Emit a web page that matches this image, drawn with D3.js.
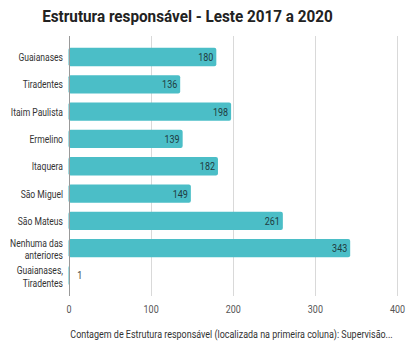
<!DOCTYPE html>
<html><head><meta charset="utf-8">
<script src="https://cdn.jsdelivr.net/npm/d3@7"></script>
<style>
html,body{margin:0;padding:0;background:#fff;}
text{font-family:Roboto,"Liberation Sans",sans-serif;}
</style></head>
<body>
<svg id="chart" width="406" height="347"></svg>
<script>
const categories = ["Guaianases","Tiradentes","Itaim Paulista","Ermelino","Itaquera","São Miguel","São Mateus","Nenhuma das anteriores","Guaianases, Tiradentes"];
const categoryLines = [["Guaianases"],["Tiradentes"],["Itaim Paulista"],["Ermelino"],["Itaquera"],["São Miguel"],["São Mateus"],["Nenhuma das","anteriores"],["Guaianases,","Tiradentes"]];
const values = [180,136,198,139,182,149,261,343,1];
const xTicks = [0,100,200,300,400];
const title = "Estrutura responsável - Leste 2017 a 2020";
const axisTitle = "Contagem de Estrutura responsável (localizada na primeira coluna): Supervisão...";

const svg = d3.select("#chart");
const margin = {left:68.5, right:9, top:43.5, bottom:58};
const W = 406, H = 347;
const x = d3.scaleLinear().domain([0,400]).range([margin.left, W - margin.right]);
const y = d3.scaleBand().domain(categories).range([margin.top, 289]).paddingInner(0.33).paddingOuter(0.16);

// measure condensing factor from a reference label
const probe = svg.append("text").attr("font-size",10.5).text("Nenhuma das");
const SX = Math.min(1, 53 / probe.node().getComputedTextLength());
probe.remove();

// fit a centred text to a target width with a horizontal scale
function fittedText(cx, cy, str, size, weight, fill, target){
  const g = svg.append("g");
  const tx = g.append("text").attr("text-anchor","middle").attr("font-size",size)
    .attr("font-weight",weight).attr("fill",fill).text(str);
  const w = tx.node().getComputedTextLength();
  const s = Math.min(1.2, target / w);
  g.attr("transform",`translate(${cx},${cy}) scale(${s},1)`);
  return g;
}

// title
fittedText(187.5, 22, title, 17, "bold", "#222", 291);

// grid
svg.append("g").selectAll("line").data(xTicks.slice(1)).join("line")
  .attr("x1",d=>Math.round(x(d))+0.5).attr("x2",d=>Math.round(x(d))+0.5)
  .attr("y1",36).attr("y2",296).attr("stroke","#d9d9d9").attr("stroke-width",1);

// bars
svg.append("g").selectAll("rect").data(values).join("rect")
  .attr("x",x(0)).attr("y",(d,i)=>y(categories[i]))
  .attr("width",d=>x(d)-x(0)).attr("height",y.bandwidth())
  .attr("rx",2).attr("fill","#4bbec7");

// zero axis
svg.append("line").attr("x1",Math.round(x(0))+0.5).attr("x2",Math.round(x(0))+0.5)
  .attr("y1",36).attr("y2",296).attr("stroke","#999").attr("stroke-width",1);

// value labels
svg.append("g").selectAll("g").data(values).join("g")
  .attr("transform",(d,i)=>{
    const inside = x(d)-x(0) > 25;
    const px = inside ? x(d)-3 : x(d)+8;
    return `translate(${px},${y(categories[i])+y.bandwidth()/2+4}) scale(${SX},1)`;
  })
  .append("text")
  .attr("text-anchor",d=> (x(d)-x(0) > 25) ? "end" : "start")
  .attr("font-size",11).attr("fill",d=> (x(d)-x(0) > 25) ? "#1f3b40" : "#444")
  .text(d=>d);

// category labels
const cl = svg.append("g").attr("transform",`translate(63,0) scale(${SX},1)`)
  .selectAll("text").data(categories).join("text")
  .attr("text-anchor","end").attr("font-size",10.5).attr("fill","#333");
cl.each(function(c,i){
  const lines = categoryLines[i];
  const cy = y(c)+y.bandwidth()/2;
  const lh = 12.3;
  const start = lines.length > 1 ? cy - 1 : cy + 4;
  d3.select(this).selectAll("tspan").data(lines).join("tspan")
    .attr("x",0).attr("y",(d,j)=>start+j*lh).text(d=>d);
});

// x axis
const xa = svg.append("g").attr("transform","translate(0,296)")
  .call(d3.axisBottom(x).tickValues(xTicks).tickSize(0).tickPadding(9));
xa.select(".domain").remove();
xa.selectAll("text").attr("font-size",11).attr("fill","#555")
  .attr("font-family","Roboto,sans-serif").attr("transform",`scale(${SX},1)`);

// axis title
fittedText(231.5, 338, axisTitle, 11, "normal", "#333", 323);
</script>
</body></html>
